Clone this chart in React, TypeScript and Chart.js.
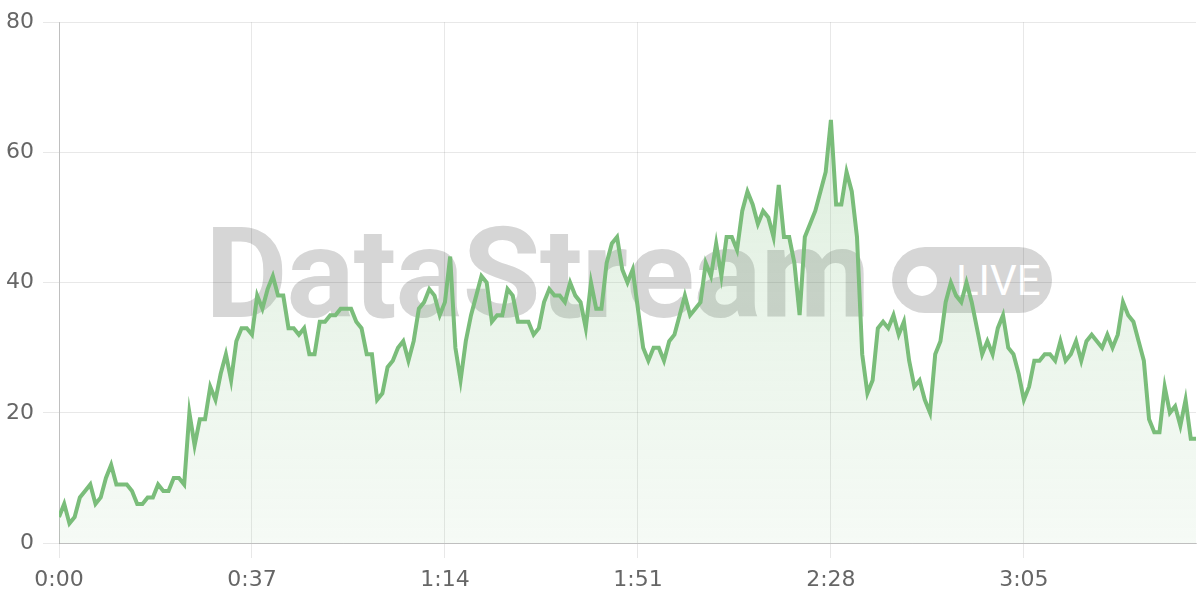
import React, { useEffect, useRef } from "react";
import { Chart, registerables } from "chart.js";

Chart.register(...registerables);

// One sample per second
const values: number[] = [
  4, 6, 3, 4, 7, 8, 9, 6, 7, 10, 12, 9, 9, 9, 8, 6, 6, 7, 7, 9,
  8, 8, 10, 10, 9, 20, 15, 19, 19, 24, 22, 26, 29, 25, 31, 33, 33, 32, 38, 36,
  39, 41, 38, 38, 33, 33, 32, 33, 29, 29, 34, 34, 35, 35, 36, 36, 36, 34, 33, 29,
  29, 22, 23, 27, 28, 30, 31, 28, 31, 36, 37, 39, 38, 35, 37, 44, 30, 25, 31, 35,
  38, 41, 40, 34, 35, 35, 39, 38, 34, 34, 34, 32, 33, 37, 39, 38, 38, 37, 40, 38,
  37, 33, 40, 36, 36, 43, 46, 47, 42, 40, 42, 36, 30, 28, 30, 30, 28, 31, 32, 35,
  38, 35, 36, 37, 43, 41, 46, 41, 47, 47, 45, 51, 54, 52, 49, 51, 50, 47, 55, 47,
  47, 43, 35, 47, 49, 51, 54, 57, 65, 52, 52, 57, 54, 47, 29, 23, 25, 33, 34, 33,
  35, 32, 34, 28, 24, 25, 22, 20, 29, 31, 37, 40, 38, 37, 40, 37, 33, 29, 31, 29,
  33, 35, 30, 29, 26, 22, 24, 28, 28, 29, 29, 28, 31, 28, 29, 31, 28, 31, 32, 31,
  30, 32, 30, 32, 37, 35, 34, 31, 28, 19, 17, 17, 24, 20, 21, 18, 22, 16, 16,
];
const seconds: number[] = values.map((_, i) => i);
const xTickSeconds: number[] = [0, 37, 74, 111, 148, 185];
const xTickLabels: string[] = ["0:00", "0:37", "1:14", "1:51", "2:28", "3:05"];
const yTicks: number[] = [0, 20, 40, 60, 80];

const LINE = "rgb(122, 189, 122)";
const GRID = "rgba(0,0,0,0.09)";
const BORDER = "rgba(0,0,0,0.18)";
const TICK_FONT = { family: "'DejaVu Sans'", size: 22 };

export default function App() {
  const canvasRef = useRef<HTMLCanvasElement | null>(null);

  useEffect(() => {
    document.body.style.margin = "0";
    const canvas = canvasRef.current;
    if (!canvas) return;
    const chart = new Chart(canvas, {
      type: "line",
      data: {
        datasets: [
          {
            data: seconds.map((s, i) => ({ x: s, y: values[i] })),
            borderColor: LINE,
            borderWidth: 4,
            pointRadius: 0,
            tension: 0,
            fill: "origin",
            backgroundColor: (ctx: any) => {
              const area = ctx.chart.chartArea;
              if (!area) return "rgba(122,189,122,0.15)";
              const g = ctx.chart.ctx.createLinearGradient(0, area.top, 0, area.bottom);
              g.addColorStop(0, "rgba(122,189,122,0.28)");
              g.addColorStop(1, "rgba(122,189,122,0.07)");
              return g;
            },
          },
        ],
      },
      options: {
        responsive: false,
        animation: false,
        layout: { padding: { left: 0, right: 4, top: 5, bottom: 0 } },
        plugins: { legend: { display: false }, tooltip: { enabled: false } },
        scales: {
          x: {
            type: "linear",
            min: 0,
            max: values.length - 1,
            afterBuildTicks: (scale: any) => {
              scale.ticks = xTickSeconds.map((v) => ({ value: v }));
            },
            afterFit: (scale: any) => {
              scale.height = 57;
            },
            ticks: {
              autoSkip: false,
              maxRotation: 0,
              color: "#666",
              font: TICK_FONT,
              padding: 9,
              callback: (v: any) => {
                const idx = xTickSeconds.indexOf(Number(v));
                return idx >= 0 ? xTickLabels[idx] : "";
              },
            },
            grid: { color: GRID, tickLength: 15, lineWidth: 1 },
            border: { color: BORDER, width: 1 },
          },
          y: {
            min: 0,
            max: 80,
            afterBuildTicks: (scale: any) => {
              scale.ticks = yTicks.map((v) => ({ value: v }));
            },
            afterFit: (scale: any) => {
              scale.width = 59;
            },
            ticks: {
              color: "#666",
              font: TICK_FONT,
              padding: 9,
            },
            grid: { color: GRID, tickLength: 16, lineWidth: 1 },
            border: { color: BORDER, width: 1 },
          },
        },
      },
    });
    return () => chart.destroy();
  }, []);

  const gray = "#d6d6d6";
  return (
    <div style={{ position: "relative", width: 1200, height: 600, background: "#fff" }}>
      <div
        style={{
          position: "absolute",
          left: 205,
          top: 210,
          fontFamily: "Roboto, 'Liberation Sans', sans-serif",
          fontWeight: 700,
          fontSize: 127,
          lineHeight: 1,
          color: gray,
          letterSpacing: -1,
          whiteSpace: "nowrap",
          zIndex: 0,
        }}
      >
        DataStream
      </div>
      <div
        style={{
          position: "absolute",
          left: 892,
          top: 247,
          width: 160,
          height: 66,
          borderRadius: 33,
          background: gray,
          zIndex: 0,
        }}
      >
        <div
          style={{
            position: "absolute",
            left: 15,
            top: 19,
            width: 30,
            height: 30,
            borderRadius: 15,
            background: "#fff",
          }}
        />
        <div
          style={{
            position: "absolute",
            left: 64,
            top: 13,
            fontFamily: "Roboto, 'Liberation Sans', sans-serif",
            fontWeight: 400,
            fontSize: 42,
            lineHeight: 1,
            color: "#fff",
            whiteSpace: "nowrap",
          }}
        >
          LIVE
        </div>
      </div>
      <canvas
        ref={canvasRef}
        width={1200}
        height={600}
        style={{ position: "absolute", left: 0, top: 0, zIndex: 1, display: "block" }}
      />
    </div>
  );
}
